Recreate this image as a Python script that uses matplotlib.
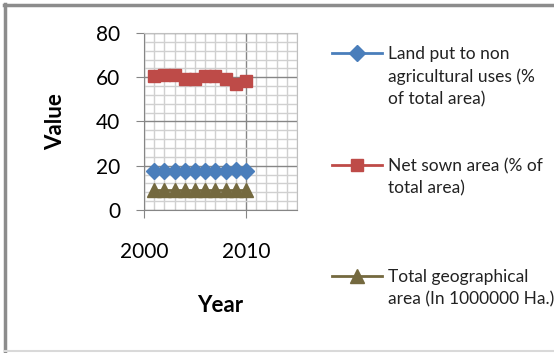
import matplotlib.pyplot as plt
from matplotlib.lines import Line2D

years = [2001, 2002, 2003, 2004, 2005, 2006, 2007, 2008, 2009, 2010]
non_agri = [17.5, 17.5, 17.5, 17.5, 17.5, 17.5, 17.5, 17.6, 17.9, 17.8]
net_sown = [60.5, 61.2, 61.2, 59.3, 59.3, 60.6, 60.6, 59.2, 57.0, 58.3]
total_geo = [9.0, 9.0, 9.0, 9.0, 9.0, 9.0, 9.0, 9.0, 9.0, 9.0]

labels = [
    ["Land put to non", "agricultural uses (%", "of total area)"],
    ["Net sown area (% of", "total area)"],
    ["Total geographical", "area (In 1000000 Ha.)"],
]
colors = ["#4A7EBB", "#BE4B48", "#74693F"]
markers = ["D", "s", "^"]

plt.rcParams["font.family"] = ["Lato", "DejaVu Sans"]

fig = plt.figure(figsize=(5.54, 3.53), dpi=100)
ax = fig.add_axes([144 / 554, 1 - 210 / 353, 153 / 554, 177 / 353])

series = [non_agri, net_sown, total_geo]
handles = []
for vals, c, m in zip(series, colors, markers):
    ms = {"D": 8.5, "s": 9, "^": 9.5}[m]
    h, = ax.plot(years, vals, color=c, marker=m, markersize=ms, linewidth=2,
                 markeredgecolor=c, zorder=3, clip_on=False)
    handles.append(h)

ax.set_xlim(2000, 2015)
ax.set_ylim(0, 80)
ax.set_xticks([2000, 2010])
ax.set_xticks(range(2000, 2016), minor=True)
ax.set_yticks([0, 20, 40, 60, 80])
ax.set_yticks(range(0, 81, 4), minor=True)
ax.grid(which="minor", color="#d0d0d0", linewidth=1)
ax.grid(which="major", color="#868686", linewidth=1)
ax.set_axisbelow(True)
for s in ax.spines.values():
    s.set_color("#bfbfbf")
ax.spines["left"].set_color("#868686")
ax.spines["bottom"].set_color("#868686")
ax.tick_params(which="major", length=6, color="#868686", labelsize=15)
ax.tick_params(axis="x", which="major", pad=17)
ax.tick_params(axis="y", which="major", pad=11)
ax.tick_params(which="minor", length=0)

ax.set_xlabel("Year", fontsize=16, fontweight="bold", va="center")
ax.set_ylabel("Value", fontsize=16, fontweight="bold", va="center")
ax.xaxis.set_label_coords(0.5, -0.542)
ax.yaxis.set_label_coords(-0.58, 0.5)

# legend: one row per text line, handle only on first line
blank = Line2D([], [], color="none")
rows_h, rows_l = [], []
slots = {0: (0, 0), 1: (0, 1), 2: (0, 2), 5: (1, 0), 6: (1, 1), 10: (2, 0), 11: (2, 1)}
for i in range(12):
    if i in slots:
        k, j = slots[i]
        rows_h.append(handles[k] if j == 0 else blank)
        rows_l.append(labels[k][j])
    else:
        rows_h.append(blank)
        rows_l.append("Ag")
leg = fig.legend(rows_h, rows_l, loc="upper left", bbox_to_anchor=(332 / 554, 1 - 46 / 353),
                 frameon=False, fontsize=12.5, handlelength=2.9, handletextpad=0.3,
                 labelspacing=0.36, borderpad=0, borderaxespad=0)
for t in leg.get_texts():
    t.set_color("#222222")
    if t.get_text() == "Ag":
        t.set_alpha(0)

fig.add_artist(Line2D([5 / 554, 5 / 554], [0, 1 - 4 / 353], transform=fig.transFigure,
                      color="#8c8c8c", linewidth=2.5))
fig.add_artist(Line2D([4 / 554, 1], [1 - 5 / 353, 1 - 5 / 353], transform=fig.transFigure,
                      color="#8c8c8c", linewidth=2.5))
fig.add_artist(Line2D([5 / 554, 1], [2 / 353, 2 / 353], transform=fig.transFigure,
                      color="#d9d9d9", linewidth=1.5))

fig.savefig("out.png", dpi=100)
